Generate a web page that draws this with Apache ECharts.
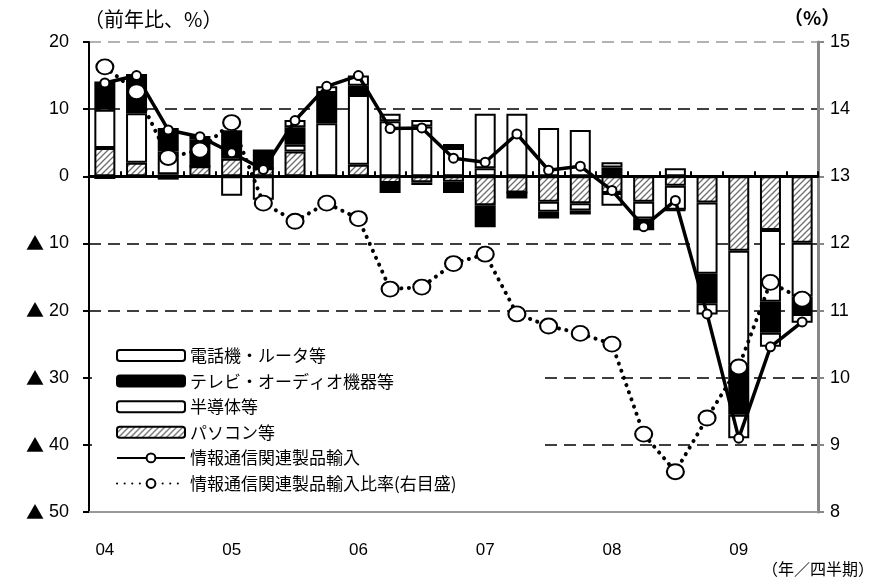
<!DOCTYPE html>
<html>
<head>
<meta charset="utf-8">
<script src="https://cdn.jsdelivr.net/npm/echarts@6/dist/echarts.min.js"></script>
<style>
html,body{margin:0;padding:0;background:#fff;}
#main{width:869px;height:580px;}
</style>
</head>
<body>
<div id="main"></div>
<script>
// ---- data ----
const quarters = ['04Q1','04Q2','04Q3','04Q4','05Q1','05Q2','05Q3','05Q4','06Q1','06Q2','06Q3','06Q4',
                  '07Q1','07Q2','07Q3','07Q4','08Q1','08Q2','08Q3','08Q4','09Q1','09Q2','09Q3'];
const yearLabels = ['04','05','06','07','08','09'];
const pasocon   = [4.2, 2.0, 0.3, 1.5, 2.6, 1.2, 3.7, 0,   1.7, -1.0, -0.9, -0.8, -4.3, -2.4, -3.8, -4.0, -2.5, -3.8, -1.4, -3.9, -11.1, -8.0, -9.9];
const handotai  = [5.7, 7.4, 3.4, 0,  -2.9, 0,   1.0, 7.9, 10.4, 8.2, 7.4, 4.2, 1.2, 0,  -1.5, -1.1, -1.9, -2.5, -3.6, -10.6, -17.1, -10.7, -8.0];
const tv        = [4.2, 5.7, 3.5, 4.0, 4.1, 2.8, 2.6, 4.5, 1.4, -1.5, -0.4, -1.7, -3.3, -0.9, -1.0, -0.6, 1.3, -1.6, -0.1, -4.4, -7.3, -4.6, -2.6];
const denwa     = [-0.4, 0,  -0.5, 0.5, 0,  -3.5, 1.1, 1.0, 1.5, 1.1, 1.0, 0.6, 8.1, 9.3, 7.2, 6.9, 0.8, 0,   1.2, -1.7, -3.5, -2.1, -1.3];
const imports   = [13.9, 15.0, 6.9, 5.9, 3.5, 1.0, 8.3, 13.4, 15.0, 7.1, 7.2, 2.7, 2.1, 6.3, 0.9, 1.5, -2.1, -7.5, -3.6, -20.5, -39.0, -25.4, -21.7];
const ratio     = [14.63, 14.26, 13.28, 13.39, 13.80, 12.60, 12.33, 12.60, 12.37, 11.32, 11.35, 11.70, 11.84, 10.95, 10.77, 10.66, 10.50, 9.16, 8.6, 9.40, 10.16, 11.42, 11.17];
const leftTicks = {min: -50, max: 20, interval: 10};
const rightTicks = {min: 8, max: 15, interval: 1};

// ---- hatch pattern ----
function makeHatch(){
  const s = 6;
  const c = document.createElement('canvas');
  c.width = s; c.height = s;
  const g = c.getContext('2d');
  g.fillStyle = '#fff'; g.fillRect(0,0,s,s);
  g.strokeStyle = '#6e6e6e'; g.lineWidth = 1.3;
  g.beginPath();
  g.moveTo(0, s); g.lineTo(s, 0);
  g.moveTo(-1, 1); g.lineTo(1, -1);
  g.moveTo(s-1, s+1); g.lineTo(s+1, s-1);
  g.stroke();
  return c;
}
const hatch = {image: makeHatch(), repeat: 'repeat'};

const numFont = 'Liberation Sans';
const jpFont = '"Noto Sans CJK JP"';
const circlePath = 'path://M0,-1 C0.552,-1 1,-0.552 1,0 C1,0.552 0.552,1 0,1 C-0.552,1 -1,0.552 -1,0 C-1,-0.552 -0.552,-1 0,-1 Z';

const barBase = {type: 'bar', stack: 'total', barWidth: 21, xAxisIndex: 0, yAxisIndex: 0};
const names = ['電話機・ルータ等','テレビ・オーディオ機器等','半導体等','パソコン等','情報通信関連製品輸入','情報通信関連製品輸入比率(右目盛)'];

const chart = echarts.init(document.getElementById('main'), null, {renderer: 'canvas'});
chart.setOption({
  animation: false,
  backgroundColor: '#fff',
  textStyle: {fontFamily: jpFont},
  grid: {left: 89, right: 51, top: 42, bottom: 68},
  legend: {
    orient: 'vertical', left: 92, top: 336,
    data: names,
    itemWidth: 68, itemHeight: 11, itemGap: 8.6,
    backgroundColor: '#fff',
    padding: [11, 85, 10, 24],
    textStyle: {fontSize: 17, color: '#000', fontFamily: jpFont}
  },
  xAxis: [
    {type: 'category', data: quarters, position: 'bottom', boundaryGap: true,
     axisLine: {onZero: true, lineStyle: {color: '#000', width: 3}},
     axisTick: {show: true, inside: true, length: 5, interval: 0, lineStyle: {color: '#000', width: 2}},
     axisLabel: {show: false}, splitLine: {show: false}, z: 5},
    {type: 'category', data: quarters, position: 'bottom', boundaryGap: true,
     axisLine: {onZero: false, lineStyle: {color: '#999', width: 2}},
     axisTick: {show: false},
     axisLabel: {show: true, interval: 0, margin: 30, fontSize: 17, color: '#000', fontFamily: numFont,
       formatter: function(v, i){ return i % 4 === 0 ? yearLabels[i/4] : ''; }},
     splitLine: {show: false}}
  ],
  yAxis: [
    {type: 'value', position: 'left', min: leftTicks.min, max: leftTicks.max, interval: leftTicks.interval,
     axisLine: {show: true, lineStyle: {color: '#000', width: 2}},
     axisTick: {show: true, length: 6, lineStyle: {color: '#000', width: 2}},
     axisLabel: {fontSize: 18, color: '#000', margin: 20, fontFamily: numFont,
       formatter: function(v){ return v < 0 ? '{t|▲} ' + (-v) : String(v); },
       rich: {t: {fontFamily: jpFont, fontSize: 18, color: '#000'}}},
     splitLine: {show: true, lineStyle: {color: ['#999','#000','#000','#000','#000','#000','#000','#999'], width: 1.6, type: [12, 7]}}},
    {type: 'value', position: 'right', min: rightTicks.min, max: rightTicks.max, interval: rightTicks.interval,
     axisLine: {show: true, lineStyle: {color: '#888', width: 3}},
     axisTick: {show: true, length: 6, lineStyle: {color: '#888', width: 2}},
     axisLabel: {fontSize: 18, color: '#000', margin: 12, fontFamily: numFont},
     splitLine: {show: false}}
  ],
  graphic: [
    {type: 'text', left: 84, top: 9, style: {text: '（前年比、%）', fontSize: 20, fill: '#000', fontFamily: jpFont}},
    {type: 'text', left: 784, top: 8, style: {text: '（%）', fontSize: 19, fill: '#000', fontWeight: 'bold', fontFamily: jpFont}},
    {type: 'text', left: 762, top: 561, style: {text: '（年／四半期）', fontSize: 16, fill: '#000', fontFamily: jpFont}}
  ],
  series: [
    Object.assign({}, barBase, {name: names[3], data: pasocon,
      itemStyle: {color: hatch, borderColor: '#000', borderWidth: 2}}),
    Object.assign({}, barBase, {name: names[2], data: handotai,
      itemStyle: {color: '#fff', borderColor: '#000', borderWidth: 2}}),
    Object.assign({}, barBase, {name: names[1], data: tv,
      itemStyle: {color: '#000', borderColor: '#000', borderWidth: 2}}),
    Object.assign({}, barBase, {name: names[0], data: denwa,
      itemStyle: {color: '#fff', borderColor: '#000', borderWidth: 2}}),
    {type: 'line', name: names[4], data: imports, xAxisIndex: 0, yAxisIndex: 0, z: 4,
     lineStyle: {color: '#000', width: 3.5},
     symbol: 'circle', symbolSize: 9,
     itemStyle: {color: '#fff', borderColor: '#000', borderWidth: 2}},
    {type: 'line', name: names[5], data: ratio, xAxisIndex: 0, yAxisIndex: 1, z: 5,
     lineStyle: {color: '#000', width: 4, type: [0.1, 7.5], cap: 'round'},
     symbol: circlePath, symbolSize: [17, 15],
     itemStyle: {color: '#fff', borderColor: '#000', borderWidth: 2}}
  ]
});
</script>
</body>
</html>
